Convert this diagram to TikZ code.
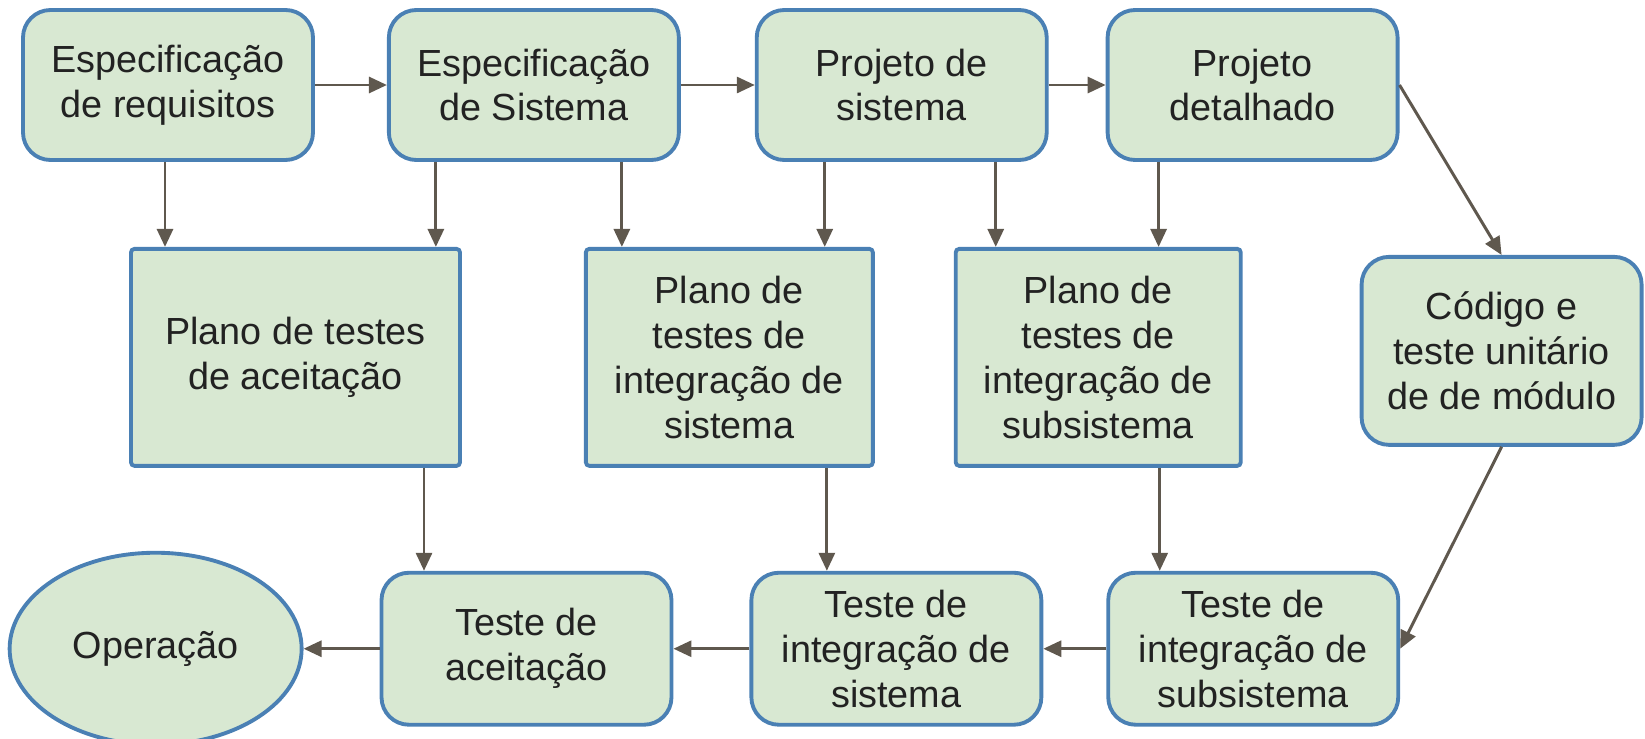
\documentclass[tikz,border=0pt]{standalone}
\usepackage{fontspec}
\setmainfont{Liberation Sans}
\usetikzlibrary{positioning, arrows.meta, shapes.geometric}

\definecolor{boxfill}{HTML}{D8E8D2}
\definecolor{boxline}{HTML}{4A80B4}
\definecolor{arrowgray}{HTML}{5F584E}
\definecolor{textdark}{HTML}{222222}

\tikzset{
	vpicture/.style = {
		font = \fontsize{21.5}{25.6}\selectfont,
		arrow/.style = {
			draw = arrowgray,
			line width = 1.7pt,
			-{Triangle[length=0.36cm, width=0.32cm]},
		}
	},
	stage/.style = {
		draw = boxline,
		fill = boxfill,
		line width = 2.2pt,
		text = textdark,
		align = center,
		inner sep = 2pt
	},
	stage-top/.style = {
		stage,
		rounded corners = 0.55cm,
		minimum width = 5.8cm,
		minimum height = 3cm
	},
	stage-test/.style = {
		stage,
		rounded corners = 0.55cm,
		minimum width = 5.8cm,
		minimum height = 3.04cm
	},
	stage-plan/.style = {
		stage,
		rounded corners = 2pt,
		minimum height = 4.34cm
	}
}

\begin{document}
\begin{tikzpicture}[vpicture]
	\useasboundingbox (0,0) rectangle (32.9,-14.78);

	\node[stage-top] (reqs) at (3.36,-1.7) {Especificação\\de requisitos};
	\node[stage-top, right = 1.44cm of reqs] (espsis) {Especificação\\de Sistema};
	\node[stage-top, right = 1.48cm of espsis] (projsis) {Projeto de\\sistema};
	\node[stage-top, right = 1.14cm of projsis] (projdet) {Projeto\\detalhado};

	\node[stage-plan, minimum width = 6.58cm, below = 1.7cm of reqs, xshift = 2.55cm] (planace) {Plano de testes\\de aceitação};
	\node[stage-plan, minimum width = 5.74cm, right = 2.44cm of planace] (planint) {Plano de\\testes de\\integração de\\sistema};
	\node[stage-plan, minimum width = 5.7cm, right = 1.58cm of planint] (plansub) {Plano de\\testes de\\integração de\\subsistema};
	\node[stage, rounded corners = 0.55cm, minimum width = 5.6cm, minimum height = 3.76cm,
		right = 2.34cm of plansub, yshift = 0.13cm] (code) {Código e\\teste unitário\\de de módulo};

	\node[stage-test, below = 2.06cm of planace, xshift = 4.62cm] (testace) {Teste de\\aceitação};
	\node[stage-test, right = 1.52cm of testace] (testint) {Teste de\\integração de\\sistema};
	\node[stage-test, right = 1.26cm of testint] (testsub) {Teste de\\integração de\\subsistema};
	\node[stage, ellipse, minimum width = 5.84cm, minimum height = 3.84cm, left = 1.52cm of testace] (oper) {Operação};

	\begin{scope}[every path/.style = arrow]
		\path (reqs) to (espsis);
		\path (espsis) to (projsis);
		\path (projsis) to (projdet);

		\path ([xshift = -0.06cm]reqs.south) to ([xshift = -0.06cm]reqs.south |- planace.north);
		\path ([xshift = -1.96cm]espsis.south) to ([xshift = -1.96cm]espsis.south |- planace.north);
		\path ([xshift = 1.76cm]espsis.south) to ([xshift = 1.76cm]espsis.south |- planint.north);
		\path ([xshift = -1.54cm]projsis.south) to ([xshift = -1.54cm]projsis.south |- planint.north);
		\path ([xshift = 1.88cm]projsis.south) to ([xshift = 1.88cm]projsis.south |- plansub.north);
		\path ([xshift = -1.88cm]projdet.south) to ([xshift = -1.88cm]projdet.south |- plansub.north);

		\path (projdet.east) to (code.north);
		\path (code.south) to (testsub.east);

		\path ([xshift = 2.57cm]planace.south) to ([xshift = 2.57cm]planace.south |- testace.north);
		\path ([xshift = 1.95cm]planint.south) to ([xshift = 1.95cm]planint.south |- testint.north);
		\path ([xshift = 1.23cm]plansub.south) to ([xshift = 1.23cm]plansub.south |- testsub.north);

		\path (testsub) to (testint);
		\path (testint) to (testace);
		\path (testace) to (oper);
	\end{scope}
\end{tikzpicture}
\end{document}
